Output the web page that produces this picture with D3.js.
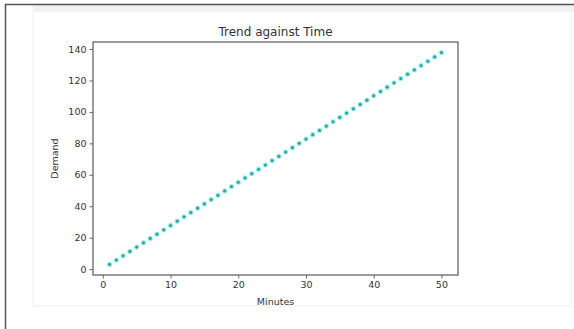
<!DOCTYPE html>
<html>
<head>
<meta charset="utf-8">
<script src="https://cdn.jsdelivr.net/npm/d3@7"></script>
<style>
  html, body { margin: 0; padding: 0; background: #fff; }
  svg { display: block; }
  text { font-family: "DejaVu Sans", sans-serif; fill: #333; }
</style>
</head>
<body>
<svg id="chart" width="574" height="329"></svg>
<script>
// Demand recorded each minute
const minutes = [1,2,3,4,5,6,7,8,9,10,11,12,13,14,15,16,17,18,19,20,21,22,23,24,25,
  26,27,28,29,30,31,32,33,34,35,36,37,38,39,40,41,42,43,44,45,46,47,48,49,50];
const demand = [3,5.75,8.5,11.25,14,16.75,19.5,22.25,25,27.75,30.5,33.25,36,38.75,41.5,
  44.25,47,49.75,52.5,55.25,58,60.75,63.5,66.25,69,71.75,74.5,77.25,80,82.75,85.5,88.25,
  91,93.75,96.5,99.25,102,104.75,107.5,110.25,113,115.75,118.5,121.25,124,126.75,129.5,
  132.25,135,137.75];
const xTicks = [0, 10, 20, 30, 40, 50];
const yTicks = [0, 20, 40, 60, 80, 100, 120, 140];

const svg = d3.select("#chart");

// notebook output cell frame
svg.append("rect").attr("x", 33).attr("y", 5).attr("width", 538).attr("height", 301)
  .attr("fill", "#fff").attr("stroke", "#f0f0f0").attr("stroke-width", 1);
svg.append("rect").attr("x", 33).attr("y", 5).attr("width", 541).attr("height", 7)
  .attr("fill", "#f2f2f2");
svg.append("line").attr("x1", 5).attr("x2", 574).attr("y1", 4.5).attr("y2", 4.5)
  .attr("stroke", "#555").attr("stroke-width", 1.5);
svg.append("line").attr("x1", 5.5).attr("x2", 5.5).attr("y1", 4).attr("y2", 329)
  .attr("stroke", "#555").attr("stroke-width", 1.5);

const plot = { left: 93, right: 458, top: 42, bottom: 275 };

// matplotlib-style 5% data margins
const xr = d3.extent(minutes), yr = d3.extent(demand);
const xm = (xr[1] - xr[0]) * 0.05, ym = (yr[1] - yr[0]) * 0.05;
const x = d3.scaleLinear().domain([xr[0] - xm, xr[1] + xm]).range([plot.left, plot.right]);
const y = d3.scaleLinear().domain([yr[0] - ym, yr[1] + ym]).range([plot.bottom, plot.top]);

const defs = svg.append("defs");
defs.append("filter").attr("id", "soft").append("feGaussianBlur").attr("stdDeviation", 0.7);

// points
const pts = svg.append("g");
pts.selectAll("circle.halo").data(minutes).join("circle")
  .attr("class", "halo")
  .attr("cx", (d) => x(d)).attr("cy", (d, i) => y(demand[i]))
  .attr("r", 2.7).attr("fill", "#a6f0ec").attr("filter", "url(#soft)");
pts.selectAll("circle.dot").data(minutes).join("circle")
  .attr("class", "dot")
  .attr("cx", (d) => x(d)).attr("cy", (d, i) => y(demand[i]))
  .attr("r", 1.6).attr("fill", "#2fa69e");

// axes
const xAxis = d3.axisBottom(x).tickValues(xTicks).tickSize(3.5).tickPadding(3);
const yAxis = d3.axisLeft(y).tickValues(yTicks).tickSize(3.5).tickPadding(3);

const gx = svg.append("g").attr("transform", `translate(0,${plot.bottom})`).call(xAxis);
const gy = svg.append("g").attr("transform", `translate(${plot.left},0)`).call(yAxis);
[gx, gy].forEach((g) => {
  g.select(".domain").remove();
  g.selectAll(".tick line").attr("stroke", "#555").attr("stroke-width", 0.9);
  g.selectAll(".tick text").attr("font-size", 9.5).attr("fill", "#333")
    .style("font-family", "'DejaVu Sans', sans-serif");
});

// axes frame
svg.append("rect")
  .attr("x", plot.left).attr("y", plot.top)
  .attr("width", plot.right - plot.left).attr("height", plot.bottom - plot.top)
  .attr("fill", "none").attr("stroke", "#666").attr("stroke-width", 1.3);

// titles
svg.append("text").attr("x", (plot.left + plot.right) / 2).attr("y", 36)
  .attr("text-anchor", "middle").attr("font-size", 12).text("Trend against Time");
svg.append("text").attr("x", (plot.left + plot.right) / 2).attr("y", 305)
  .attr("text-anchor", "middle").attr("font-size", 9.5).text("Minutes");
svg.append("text")
  .attr("transform", `translate(58,${(plot.top + plot.bottom) / 2}) rotate(-90)`)
  .attr("text-anchor", "middle").attr("font-size", 9.5).text("Demand");
</script>
</body>
</html>
